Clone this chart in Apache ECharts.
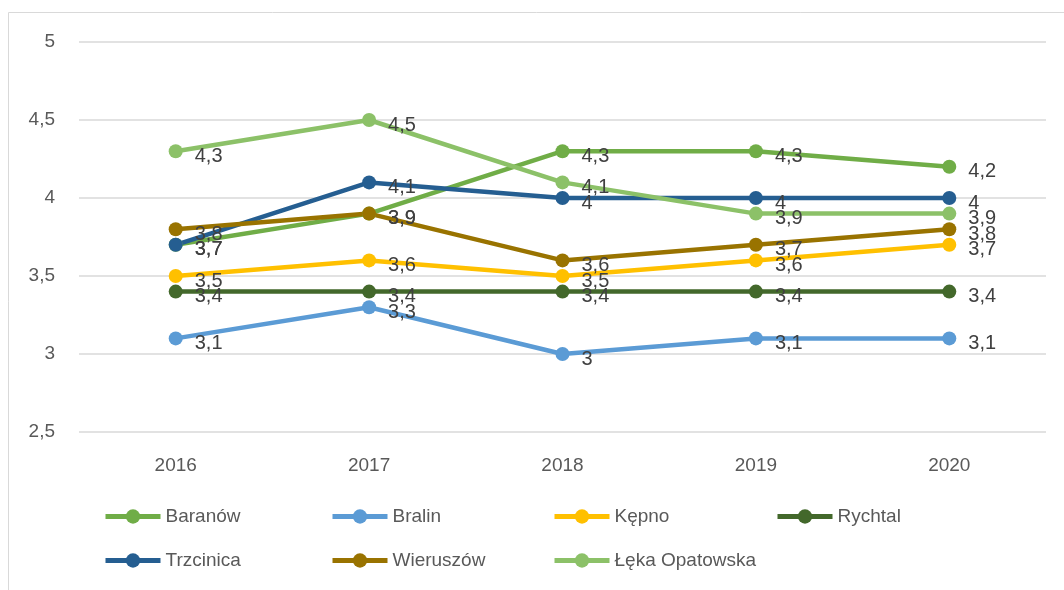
<!DOCTYPE html>
<html>
<head>
<meta charset="utf-8">
<script src="https://cdn.jsdelivr.net/npm/echarts@6/dist/echarts.min.js"></script>
<style>
  html, body { margin: 0; padding: 0; background: #fff; }
  #chart { width: 1064px; height: 590px; }
</style>
</head>
<body>
<div id="chart"></div>
<script>
const years = ['2016', '2017', '2018', '2019', '2020']
const names = ['Baranów', 'Bralin', 'Kępno', 'Rychtal', 'Trzcinica', 'Wieruszów', 'Łęka Opatowska']
const baranow = [3.7, 3.9, 4.3, 4.3, 4.2]
const bralin = [3.1, 3.3, 3.0, 3.1, 3.1]
const kepno = [3.5, 3.6, 3.5, 3.6, 3.7]
const rychtal = [3.4, 3.4, 3.4, 3.4, 3.4]
const trzcinica = [3.7, 4.1, 4.0, 4.0, 4.0]
const wieruszow = [3.8, 3.9, 3.6, 3.7, 3.8]
const lekaOpatowska = [4.3, 4.5, 4.1, 3.9, 3.9]
const colors = ['#70AD47', '#5B9BD5', '#FFC000', '#43682B', '#255E91', '#997300', '#8CC168']

const values = [baranow, bralin, kepno, rychtal, trzcinica, wieruszow, lekaOpatowska]
const font = 'Liberation Sans, Arial, sans-serif'

const makeSeries = (name, data, color) => ({
  name: name,
  type: 'line',
  data: data,
  symbol: 'circle',
  symbolSize: 14,
  lineStyle: { width: 4.5, color: color },
  itemStyle: { color: color },
  label: {
    show: true,
    position: 'right',
    distance: 12,
    offset: [0, 5],
    color: '#404040',
    fontSize: 20,
    fontFamily: font,
    formatter: p => String(p.value).replace('.', ',')
  },
  emphasis: { disabled: true }
})

// one legend per item so the columns line up like the original
const legendLeft = [103, 330, 552, 775, 103, 330, 552]
const legendTop = [507, 507, 507, 507, 551, 551, 551]
const legends = names.map((n, i) => ({
  left: legendLeft[i],
  top: legendTop[i],
  padding: 0,
  data: [n],
  itemWidth: 55,
  itemHeight: 18,
  itemGap: 0,
  lineStyle: { width: 5 },
  textStyle: { color: '#595959', fontSize: 19, fontFamily: font }
}))

const chart = echarts.init(document.getElementById('chart'))
chart.setOption({
  animation: false,
  color: colors,
  graphic: [{
    type: 'rect',
    shape: { x: 8.5, y: 12.5, width: 1100, height: 700 },
    style: { fill: 'none', stroke: '#D9D9D9', lineWidth: 1 },
    silent: true
  }],
  grid: { left: 79, right: 18, top: 42, bottom: 158, containLabel: false },
  legend: legends,
  xAxis: {
    type: 'category',
    data: years,
    boundaryGap: true,
    axisLine: { show: false },
    axisTick: { show: false },
    axisLabel: { color: '#595959', fontSize: 19, fontFamily: font, margin: 24 }
  },
  yAxis: {
    type: 'value',
    min: 2.5,
    max: 5,
    interval: 0.5,
    axisLine: { show: false },
    axisTick: { show: false },
    splitLine: { lineStyle: { color: '#D9D9D9', width: 1.5 } },
    axisLabel: {
      color: '#595959', fontSize: 19, fontFamily: font, margin: 24,
      formatter: v => String(v).replace('.', ',')
    }
  },
  series: names.map((n, i) => makeSeries(n, values[i], colors[i]))
})
</script>
</body>
</html>
